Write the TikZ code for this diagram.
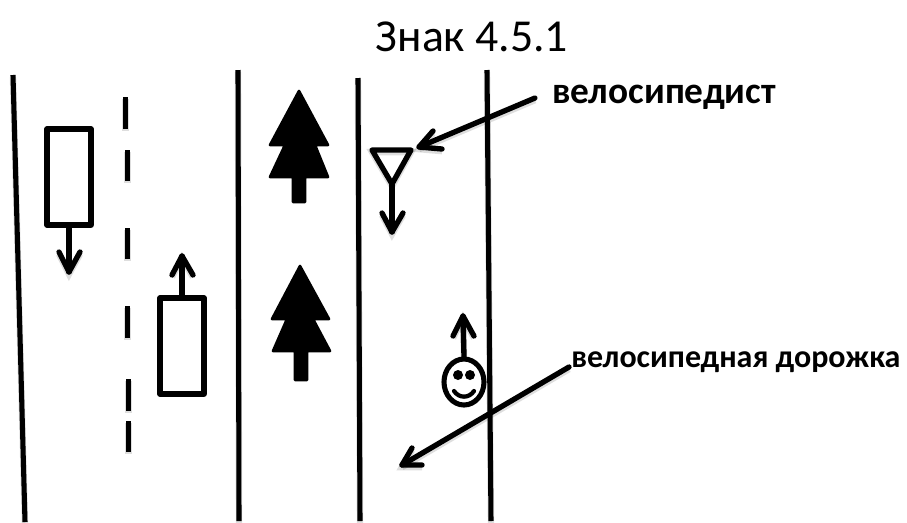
\documentclass[tikz,border=0pt]{standalone}
\usepackage{fontspec}
\usetikzlibrary{shapes.geometric}
\setmainfont{Carlito}
\tikzset{
  soft/.style={preaction={draw=black,draw opacity=.13,line width=4.8pt,transform canvas={yshift=-1.6pt}}},
  road/.style={line width=3.8pt,soft},
  dashline/.style={line width=3.8pt,soft},
  thick line/.style={line width=4pt,line cap=round,line join=round,soft},
  box/.style={line width=3.8pt,line join=round,fill=white,draw,minimum width=33pt,minimum height=72pt,inner sep=0pt},
  tree/.style={fill=black,draw=black,line width=2pt,line join=round},
  lab/.style={inner sep=0pt,anchor=base west},
}
\newcommand{\arrowto}[4]{\draw[thick line] (#1) -- (#2); \draw[thick line] (#3) -- (#2) -- (#4);}
\begin{document}
\begin{tikzpicture}[x=0.75pt,y=-0.75pt]
\useasboundingbox (0,0) rectangle (907,522);
\node[inner sep=0pt,anchor=base,font=\fontsize{34.3}{36}\selectfont] (title) at (472,51) {Знак 4.5.1};
\draw[road] (13,75) -- (25,522);
\draw[road] (238,70) -- (239,521);
\draw[road] (358,78) -- (360,521);
\draw[road] (487,70) -- (491,521);
\foreach \x/\a/\b in {125.5/97/129,127.5/150/181,127.5/228/259,127.5/306/338,128.5/379/411,128.5/421/452}
  \draw[dashline] (\x,\a) -- (\x,\b);
% cars
\node[box] (car1) at (69,177) {};
\node[box] (car2) at (182,346) {};
\coordinate (c1e) at (69,272); \coordinate (c2e) at (182,256);
\arrowto{car1.south}{c1e}{59,252}{80,252}
\arrowto{car2.north}{c2e}{172,275}{193,275}
% trees
\fill[tree] (299,91) -- (328,145) -- (315,145) -- (328,177) -- (305,177) -- (305,202) -- (293,202) -- (293,177) -- (270,177) -- (285,145) -- (270,145) -- cycle;
\fill[tree] (300,266) -- (329,319) -- (313,319) -- (330,351) -- (307,351) -- (307,380) -- (295,380) -- (295,351) -- (273,351) -- (287,319) -- (272,319) -- cycle;
% cyclist
\draw[thick line] (372,150) -- (411,150) -- (392,184) -- cycle;
\coordinate (tri) at (392,184); \coordinate (tri2) at (392,232);
\arrowto{tri}{tri2}{382,213}{403,213}
% person
\node[draw,line width=3.8pt,ellipse,minimum width=30pt,minimum height=34.5pt,inner sep=0pt] (face) at (464,382) {};
\fill (458,375) circle[radius=5]; \fill (470,375) circle[radius=5];
\draw[line width=3.2pt,line cap=round] (454,391) .. controls (459,398.5) and (469,398.5) .. (474,391);
\coordinate (pe) at (463,316);
\arrowto{face.north}{pe}{453,336}{474,336}
% labels
\node[lab,font=\bfseries\fontsize{28}{30}\selectfont] (l1) at (552,103) {велосипедист};
\node[lab,font=\bfseries\fontsize{24}{26}\selectfont] (l2) at (571,367) {велосипедная дорожка};
\coordinate (t1s) at (535,98); \coordinate (t1) at (419,147);
\arrowto{t1s}{t1}{433,131}{442,149}
\coordinate (t2s) at (569,367); \coordinate (t2) at (402,465);
\arrowto{t2s}{t2}{412,448}{422,465}
\end{tikzpicture}
\end{document}
